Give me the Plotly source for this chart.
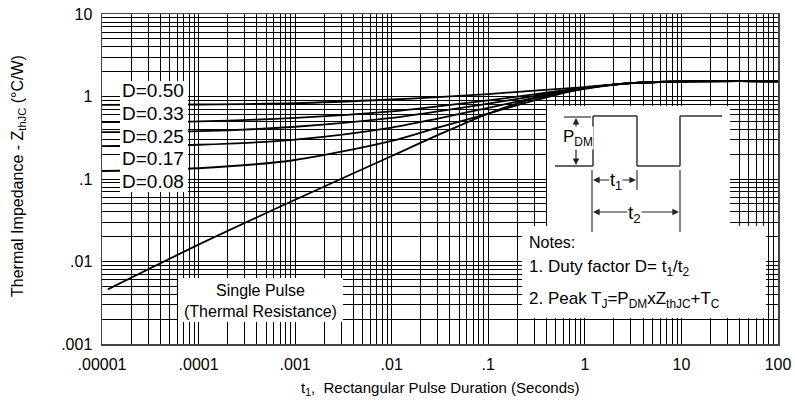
import plotly.graph_objects as go

# ---------------- data ----------------
t_points = [1e-5, 1e-4, 1e-3, 1e-2, 3e-2, 0.1, 0.3, 1, 3, 10, 100]
z_d050 = [0.79, 0.80, 0.83, 0.92, 0.98, 1.07, 1.18, 1.30, 1.45, 1.52, 1.53]
z_d033 = [0.49, 0.50, 0.55, 0.66, 0.76, 0.90, 1.06, 1.28, 1.45, 1.52, 1.53]
z_d025 = [0.37, 0.38, 0.43, 0.55, 0.66, 0.82, 1.01, 1.27, 1.45, 1.52, 1.53]
z_d017 = [0.25, 0.26, 0.30, 0.42, 0.54, 0.73, 0.96, 1.26, 1.45, 1.52, 1.53]
z_d008 = [0.125, 0.135, 0.17, 0.29, 0.42, 0.62, 0.90, 1.25, 1.45, 1.52, 1.53]
t_single = [1.15e-5, 1e-4, 1e-3, 1e-2, 3e-2, 0.1, 0.3, 1, 3, 10, 100]
z_single = [0.0046, 0.016, 0.056, 0.19, 0.34, 0.62, 0.95, 1.24, 1.45, 1.52, 1.53]

duty_labels = ["D=0.50", "D=0.33", "D=0.25", "D=0.17", "D=0.08"]
x_tickvals = [1e-5, 1e-4, 1e-3, 1e-2, 1e-1, 1, 10, 100]
x_ticktext = [".00001", ".0001", ".001", ".01", ".1", "1", "10", "100"]
y_tickvals = [0.001, 0.01, 0.1, 1, 10]
y_ticktext = [".001", ".01", ".1", "1", "10"]

# ---------------- layout helpers ----------------
W, H = 795, 406
L, R, T, B = 102, 17, 14, 62
PW, PH = W - L - R, H - T - B
FONT = "Liberation Sans, Arial, sans-serif"


def px(x):
    return (x - L) / PW


def py(y):
    return (T + PH - y) / PH


fig = go.Figure()
for z in [z_d050, z_d033, z_d025, z_d017, z_d008]:
    fig.add_trace(go.Scatter(x=t_points, y=z, mode="lines",
                             line=dict(color="black", width=1.8, shape="spline", smoothing=0.8),
                             showlegend=False, hoverinfo="skip"))
fig.add_trace(go.Scatter(x=t_single, y=z_single, mode="lines",
                         line=dict(color="black", width=1.8, shape="spline", smoothing=0.8),
                         showlegend=False, hoverinfo="skip"))

shapes = []


def rect(x0, y0, x1, y1):
    shapes.append(dict(type="rect", xref="paper", yref="paper",
                       x0=px(x0), x1=px(x1), y0=py(y1), y1=py(y0),
                       fillcolor="white", line=dict(width=0), layer="above"))


def line(x0, y0, x1, y1, w=1.5, c="#333333"):
    shapes.append(dict(type="line", xref="paper", yref="paper",
                       x0=px(x0), x1=px(x1), y0=py(y0), y1=py(y1),
                       line=dict(color=c, width=w), layer="above"))


rect(120, 81, 188, 192)     # duty label box
rect(178, 278, 343, 322)    # single pulse box
rect(547, 106, 730, 228)    # pulse diagram
rect(522, 226, 766, 318)    # notes

# pulse waveform
pulse = [(555, 166), (593, 166), (593, 116), (637, 116), (637, 166), (680, 166), (680, 116), (722, 116)]
for (a, b), (c, d) in zip(pulse[:-1], pulse[1:]):
    line(a, b, c, d)
line(564, 117, 591, 117, w=1.2)
line(592, 170, 592, 232, w=1.2)
line(637, 170, 637, 190, w=1.2)
line(680, 170, 680, 232, w=1.2)

fig.update_layout(shapes=shapes)

ann = []


def text(x, y, s, size, xanchor="center", bg=None):
    d = dict(x=px(x), y=py(y), xref="paper", yref="paper", text=s, showarrow=False,
             xanchor=xanchor, yanchor="middle", font=dict(family=FONT, size=size, color="black"))
    if bg:
        d["bgcolor"] = bg
        d["borderpad"] = 0
    ann.append(d)


def arrow(x_head, y_head, x_tail, y_tail):
    ann.append(dict(x=px(x_head), y=py(y_head), xref="paper", yref="paper",
                    ax=x_tail - x_head, ay=y_tail - y_head, axref="pixel", ayref="pixel",
                    text="", showarrow=True, arrowhead=2, arrowsize=1.1, arrowwidth=1.2,
                    arrowcolor="#222222"))


label_y = [90, 113, 136, 158, 181]
for s, yy in zip(duty_labels, label_y):
    text(120, yy, s, 19, xanchor="left")

text(260, 290, "Single Pulse", 16)
text(260, 311, "(Thermal Resistance)", 16)

text(527, 242, "Notes:", 16, xanchor="left")
text(527, 268, "1. Duty factor D= t<sub>1</sub>/t<sub>2</sub>", 17, xanchor="left")
text(527, 300, "2. Peak T<sub>J</sub>=P<sub>DM</sub>xZ<sub>thJC</sub>+T<sub>C</sub>", 17, xanchor="left")

# arrows in the pulse diagram
arrow(576, 118, 576, 141)
arrow(576, 165, 576, 141)
arrow(593, 180, 615, 180)
arrow(636, 180, 615, 180)
arrow(593, 212, 636, 212)
arrow(679, 212, 636, 212)
text(578, 138, "P<sub>DM</sub>", 17, bg="white")
text(616, 182, "t<sub>1</sub>", 18, bg="white")
text(634, 214, "t<sub>2</sub>", 19, bg="white")

# axis titles
text(440, 388, "t<sub>1</sub>,  Rectangular Pulse Duration (Seconds)", 15)
ann.append(dict(x=px(18), y=py(176), xref="paper", yref="paper",
                text="Thermal Impedance - Z<sub>thJC</sub> (°C/W)", showarrow=False,
                textangle=-90, xanchor="center", yanchor="middle",
                font=dict(family=FONT, size=16, color="black")))

fig.update_layout(annotations=ann)

axis_common = dict(type="log", showgrid=True, gridcolor="black", gridwidth=1,
                   showline=True, mirror=True, linecolor="#444444", linewidth=1.5,
                   zeroline=False, ticks="outside", tickcolor="rgba(0,0,0,0)",
                   automargin=False,
                   tickfont=dict(family=FONT, size=16, color="black"),
                   minor=dict(dtick="D1", showgrid=True, gridcolor="black", gridwidth=1, ticks=""))

fig.update_xaxes(range=[-5, 2], tickmode="array", tickvals=x_tickvals, ticktext=x_ticktext,
                 ticklen=5, **axis_common)
fig.update_yaxes(range=[-3, 1], tickmode="array", tickvals=y_tickvals, ticktext=y_ticktext,
                 ticklen=5, **axis_common)

fig.update_layout(width=W, height=H, margin=dict(l=L, r=R, t=T, b=B, autoexpand=False),
                  plot_bgcolor="white", paper_bgcolor="white",
                  font=dict(family=FONT, color="black"))

fig.write_html("out.html", config={"displayModeBar": False, "staticPlot": True},
               post_script="document.body.style.margin='0';document.body.style.overflow='hidden';")
